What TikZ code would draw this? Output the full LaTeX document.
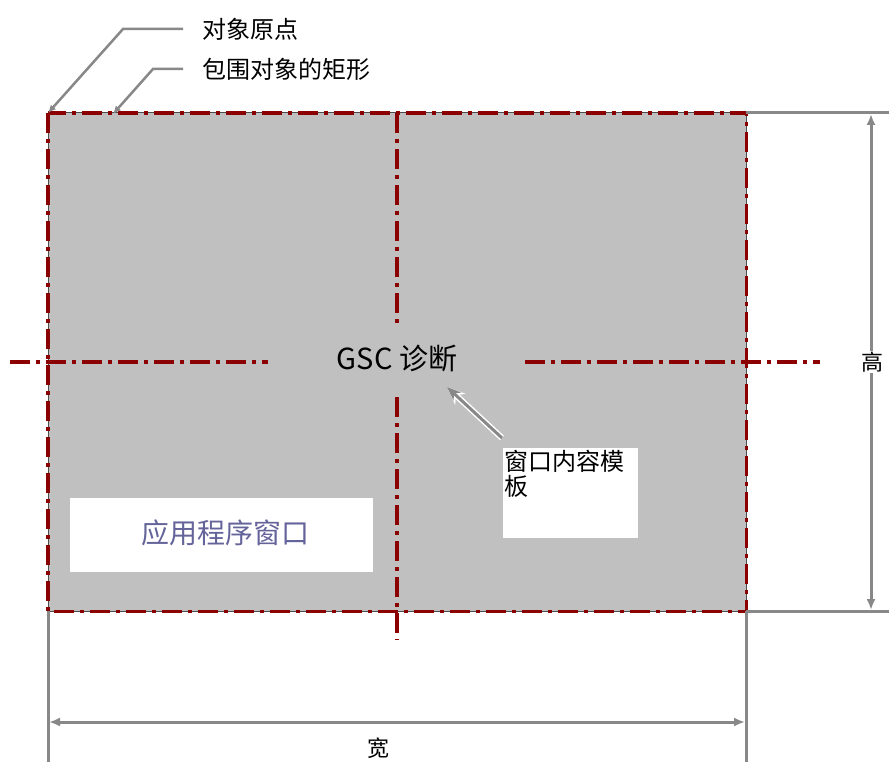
\documentclass[tikz,border=0pt]{standalone}
\usepackage{fontspec}
\setmainfont{Noto Sans CJK SC}
\usetikzlibrary{arrows.meta}
\definecolor{dred}{RGB}{139,0,0}
\definecolor{lgray}{RGB}{192,192,192}
\definecolor{lngray}{RGB}{136,136,136}
\definecolor{appblue}{RGB}{100,100,155}
\begin{document}
\begin{tikzpicture}[x=1pt,y=-1pt,
  centerline/.style={draw=dred, line width=3.5pt, dash pattern=on 20pt off 6pt on 4pt off 6pt},
  dimline/.style={draw=lngray, line width=3pt},
  dimarrow/.style={dimline, {Latex[length=11pt,width=9pt]}-{Latex[length=11pt,width=9pt]}},
  leader/.style={draw=lngray, line width=2.5pt, {Latex[length=8pt,width=7pt]}-},
  lbl/.style={font=\fontsize{24}{26}\selectfont, anchor=west, inner sep=0pt},
  whitebox/.style={fill=white, draw=none, inner sep=0pt, anchor=north west},
]
\useasboundingbox (0,0) rectangle (889,762);
\fill[white] (0,0) rectangle (889,762);

% main window area
\node[fill=lgray, inner sep=0pt, minimum width=698pt, minimum height=498pt, anchor=north west] (win) at (48,113) {};

% white boxes
\node[whitebox, minimum width=135pt, minimum height=90pt] (tpl) at (503,448) {};
\node[anchor=north west, inner sep=0pt, align=left, font=\fontsize{24}{25}\selectfont] (tpltext) at ([xshift=1pt,yshift=-2pt]tpl.north west) {窗口内容模\\板};
\node[whitebox, minimum width=303pt, minimum height=74pt] (app) at (70,498) {};
\node[text=appblue, font=\fontsize{28}{30}\selectfont, inner sep=0pt] (apptext) at (225,533) {应用程序窗口};

% border
\draw[black!70, line width=1pt] (win.north west) rectangle (win.south east);
\draw[centerline] (win.north west) rectangle (win.south east);

% center text
\node[font=\fontsize{29}{31}\selectfont, inner sep=0pt] (gsc) at (397,359) {GSC 诊断};

% center lines
\coordinate (vt) at (397,113);
\coordinate (vm1) at (397,323);
\coordinate (vm2) at (397,397);
\coordinate (vb) at (397,640);
\coordinate (hl) at (10,362);
\coordinate (hm1) at (268,362);
\coordinate (hm2) at (525,362);
\coordinate (hr) at (820,362);
\draw[centerline] (vt) -- (vm1);
\draw[centerline] (vm2) -- (vb);
\draw[centerline] (hl) -- (hm1);
\draw[centerline] (hm2) -- (hr);

% pointer arrow
\coordinate (ptail) at (502,438);
\coordinate (ptip) at (447,387);
\draw[white, line width=6pt, -{Stealth[length=18pt,width=15pt]}] (ptail) -- (ptip);
\draw[lngray, line width=3pt, -{Stealth[length=14pt,width=11pt]}] (ptail) -- (ptip);

% dimension lines
\coordinate (e1a) at (746,113); \coordinate (e1b) at (889,113);
\coordinate (e2a) at (746,611); \coordinate (e2b) at (889,611);
\coordinate (e3a) at (48,611);  \coordinate (e3b) at (48,762);
\coordinate (e4a) at (746,611); \coordinate (e4b) at (746,762);
\draw[dimline] (e1a) -- (e1b);
\draw[dimline] (e2a) -- (e2b);
\draw[dimline] (e3a) -- (e3b);
\draw[dimline] (e4a) -- (e4b);
\coordinate (h1) at (871,114); \coordinate (h2) at (871,610);
\draw[dimarrow] (h1) -- (h2);
\node[fill=white, inner sep=1pt, font=\fontsize{22}{24}\selectfont] (hlabel) at (872,362) {高};
\coordinate (w1) at (49,722); \coordinate (w2) at (745,722);
\draw[dimarrow] (w1) -- (w2);
\node[inner sep=0pt, font=\fontsize{22}{24}\selectfont] (wlabel) at (378,748) {宽};

% leader labels
\node[lbl] (origin) at (202,29) {对象原点};
\node[lbl] (bbox) at (202,69) {包围对象的矩形};
\coordinate (o0) at (48,113); \coordinate (o1) at (123,29); \coordinate (o2) at (183,29);
\coordinate (b0) at (113,114); \coordinate (b1) at (153,69); \coordinate (b2) at (183,69);
\draw[leader] (o0) -- (o1) -- (o2);
\draw[leader] (b0) -- (b1) -- (b2);
\end{tikzpicture}
\end{document}
